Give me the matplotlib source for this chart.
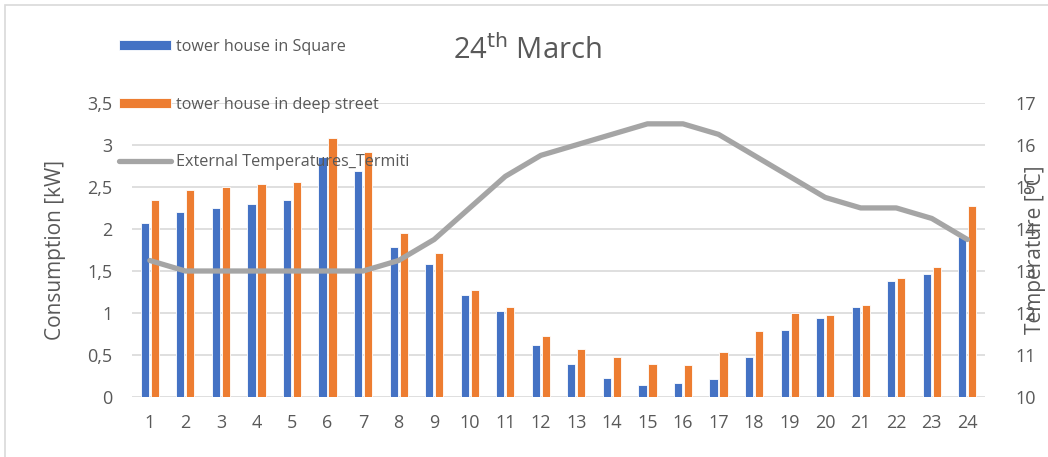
import numpy as np
import matplotlib
matplotlib.use("Agg")
import matplotlib.pyplot as plt
from matplotlib.ticker import FuncFormatter
from matplotlib.patches import Rectangle

plt.rcParams['font.family'] = ['Open Sans', 'DejaVu Sans']

# hourly data, 24th March
hours = list(range(1, 25))
square = [2.07, 2.20, 2.25, 2.30, 2.35, 2.85, 2.69, 1.79, 1.58, 1.22, 1.02, 0.62,
          0.39, 0.23, 0.15, 0.17, 0.22, 0.48, 0.80, 0.94, 1.07, 1.38, 1.46, 1.90]
deep_street = [2.35, 2.46, 2.50, 2.53, 2.56, 3.08, 2.92, 1.95, 1.71, 1.27, 1.07, 0.73,
               0.57, 0.48, 0.39, 0.38, 0.54, 0.79, 1.00, 0.98, 1.10, 1.42, 1.55, 2.27]
temperature = [13.25, 13.0, 13.0, 13.0, 13.0, 13.0, 13.0, 13.25, 13.75, 14.5, 15.25, 15.75,
               16.0, 16.25, 16.5, 16.5, 16.25, 15.75, 15.25, 14.75, 14.5, 14.5, 14.25, 13.75]

blue = '#4472C4'
orange = '#ED7D31'
grey_line = '#A5A5A5'
txt = '#595959'

fig = plt.figure(figsize=(10.48, 4.57), dpi=100)
ax = fig.add_axes([0.126, 0.131, 0.814, 0.644])
ax2 = ax.twinx()

x = np.array(hours)
w = 0.23
b1 = ax.bar(x - 0.14, square, w, color=blue, edgecolor='white', linewidth=0.6,
            label='tower house in Square', zorder=3)
b2 = ax.bar(x + 0.14, deep_street, w, color=orange, edgecolor='white', linewidth=0.6,
            label='tower house in deep street', zorder=3)
l1, = ax2.plot(x, temperature, color=grey_line, linewidth=3.8, solid_capstyle='round',
               label='External Temperatures_Termiti')

ax.set_xlim(0.5, 24.5)
ax.set_ylim(0, 3.5)
ax.set_yticks(np.arange(0, 3.51, 0.5))
ax.yaxis.set_major_formatter(FuncFormatter(lambda v, p: ('%g' % v).replace('.', ',')))
ax2.set_ylim(10, 17)
ax2.set_yticks(range(10, 18))

ax.set_xticks(hours)
ax.grid(axis='y', color='#D9D9D9', linewidth=1.2, zorder=0)
ax.set_axisbelow(True)
for a in (ax, ax2):
    for s in a.spines.values():
        s.set_visible(False)
    a.tick_params(length=0, labelsize=13, labelcolor=txt)
ax.tick_params(axis='y', pad=14)
ax.tick_params(axis='x', pad=12)
ax2.tick_params(axis='y', pad=22)

ax.set_ylabel('Consumption [kW]', fontsize=15, color=txt)
ax.yaxis.set_label_coords(-0.077, 0.5)
ax2.set_ylabel('Temperature [°C]', fontsize=15, color=txt)
ax2.yaxis.set_label_coords(1.047, 0.5)

fig.text(0.503, 0.89, r'24$^{\mathrm{th}}$ March', fontsize=21, color=txt,
         ha='center', va='center')

leg = fig.legend(handles=[b1, b2, l1], loc='upper left', bbox_to_anchor=(0.1, 0.947),
                 frameon=False, fontsize=11.6, labelspacing=2.6, handlelength=3.2,
                 handleheight=0.65, handletextpad=0.35, labelcolor=txt)

# light outer frame (only left and top edges visible)
fig.patches.append(Rectangle((0.005, -0.2), 1.2, 0.2 + 0.989, transform=fig.transFigure,
                             fill=False, edgecolor='#D9D9D9', linewidth=1.2))

fig.savefig('out.png', dpi=100)
